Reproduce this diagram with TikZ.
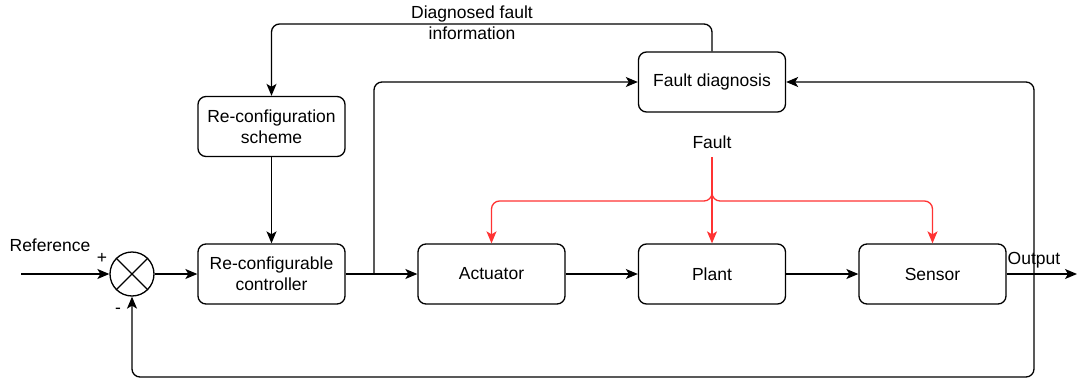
\documentclass[tikz,border=0pt]{standalone}
\usepackage{fontspec}
\setmainfont{Liberation Sans}
\usetikzlibrary{arrows.meta}
\definecolor{faultred}{RGB}{255,51,51}
\begin{document}
\begin{tikzpicture}[x=1pt,y=-1pt,
  blk/.style={draw, rounded corners=8pt, line width=1.3pt, minimum width=147pt, minimum height=60pt, align=center, inner sep=0pt, font=\fontsize{17.5}{21}\selectfont},
  lbl/.style={inner sep=0pt, align=center, font=\fontsize{17.5}{21}\selectfont},
  conn/.style={line width=1.3pt, rounded corners=8pt, -{Stealth[length=12pt,width=10pt,inset=3pt]}},
  fconn/.style={conn, draw=faultred, -{Stealth[length=12pt,width=10pt,inset=3pt,fill=faultred]}},
  sumj/.style={draw, circle, line width=1.3pt, minimum size=44pt, inner sep=0pt}]
\useasboundingbox (0,0) rectangle (1077,380);
% blocks
\node[sumj] (sum) at (132,274) {};
\draw[line width=1.3pt] (sum.north west) -- (sum.south east) (sum.north east) -- (sum.south west);
\node[blk] (ctrl) at (271.5,274) {Re-configurable\\controller};
\node[blk] (scheme) at (271.5,126.5) {Re-configuration\\scheme};
\node[blk] (fd) at (712,82) {Fault diagnosis};
\node[blk] (act) at (491.5,274) {Actuator};
\node[blk] (plant) at (712,274) {Plant};
\node[blk] (sensor) at (932.5,274) {Sensor};
% labels
\node[lbl] (reftxt) at (50,245) {Reference};
\node[lbl] (plus) at (102,258) {+};
\node[lbl] (minus) at (118,311) {-};
\node[lbl] (outtxt) at (1034,260) {Output};
\node[lbl] (faulttxt) at (712,142) {Fault};
\node[lbl] (diagtxt) at (472,23) {Diagnosed fault\\information};
% coordinates
\coordinate (ref) at (21,274);
\coordinate (out) at (1077,274);
\coordinate (br) at (374,274);
\coordinate (fbx) at (1034,274);
\coordinate (fbbot) at (1034,377);
\coordinate (top) at (472,24);
\coordinate (fsrc) at (712,157);
\coordinate (fsplit) at (712,201);
% connectors
\draw[conn] (ref) -- (sum.west);
\draw[conn] (sum.east) -- (ctrl.west);
\draw[conn] (scheme.south) -- (ctrl.north);
\draw[conn] (ctrl.east) -- (act.west);
\draw[conn] (act.east) -- (plant.west);
\draw[conn] (plant.east) -- (sensor.west);
\draw[conn] (sensor.east) -- (out);
\draw[conn] (br) |- (fd.west);
\draw[conn] (fbx) |- (fd.east);
\draw[conn] (fbx) -- (fbbot) -| (sum.south);
\draw[conn] (fd.north) |- (top) -| (scheme.north);
% fault arrows
\draw[fconn] (fsrc) -- (plant.north);
\draw[fconn] (fsrc) -- (fsplit) -| (act.north);
\draw[fconn] (fsrc) -- (fsplit) -| (sensor.north);
\end{tikzpicture}
\end{document}
